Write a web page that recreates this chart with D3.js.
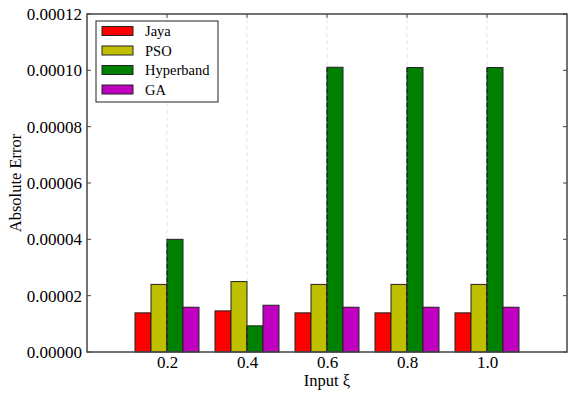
<!DOCTYPE html>
<html lang="en">
<head>
<meta charset="UTF-8">
<title>Absolute Error</title>
<script src="https://cdn.jsdelivr.net/npm/d3@7"></script>
<style>
	body { margin: 0; background: #fff; }
	svg text { font-family: "Liberation Serif", "DejaVu Serif", serif; fill: #000; }
</style>
</head>
<body>
<div id="viz"></div>
<script>
	// data
	let inputs = [0.2, 0.4, 0.6, 0.8, 1.0];
	let methods = ['Jaya', 'PSO', 'Hyperband', 'GA'];
	let jaya = [1.39e-5, 1.46e-5, 1.39e-5, 1.39e-5, 1.39e-5];
	let pso = [2.40e-5, 2.50e-5, 2.40e-5, 2.40e-5, 2.40e-5];
	let hyperband = [4.00e-5, 0.93e-5, 1.011e-4, 1.010e-4, 1.010e-4];
	let ga = [1.59e-5, 1.66e-5, 1.59e-5, 1.59e-5, 1.59e-5];
	let yTicks = [0, 0.00002, 0.00004, 0.00006, 0.00008, 0.00010, 0.00012];
	let colors = ['#ff0000', '#bfbf00', '#008000', '#bf00bf'];

	let series = [jaya, pso, hyperband, ga];
	let barW = 0.04;

	let W = 577, H = 398;
	let margin = {top: 14, left: 87, bottom: 46, right: 10};

	let x = d3.scaleLinear().domain([0, 1.2]).range([margin.left, W - margin.right]);
	let y = d3.scaleLinear().domain([0, 0.00012]).range([H - margin.bottom, margin.top]);

	let svg = d3.select('#viz').append('svg')
		.attr('width', W).attr('height', H);

	// faint vertical grid
	svg.append('g').selectAll('line')
		.data(inputs).enter().append('line')
		.attr('x1', d => x(d)).attr('x2', d => x(d))
		.attr('y1', y(0)).attr('y2', y(0.00012))
		.attr('stroke', '#e6e6e6')
		.attr('stroke-dasharray', '4,3');

	// bars
	series.forEach((vals, i) => {
		svg.append('g').selectAll('rect')
			.data(vals).enter().append('rect')
			.attr('x', (d, j) => x(inputs[j] + (i - 2) * barW))
			.attr('width', x(barW) - x(0))
			.attr('y', d => y(d))
			.attr('height', d => y(0) - y(d))
			.attr('fill', colors[i])
			.attr('stroke', '#222')
			.attr('stroke-width', 1);
	});

	// dark dashed grid over the hyperband bars
	svg.append('g').selectAll('line')
		.data(hyperband).enter().append('line')
		.attr('x1', (d, j) => x(inputs[j])).attr('x2', (d, j) => x(inputs[j]))
		.attr('y1', y(0)).attr('y2', d => y(d))
		.attr('stroke', '#222')
		.attr('stroke-dasharray', '4,3');

	// axes
	let xAxis = d3.axisBottom(x).tickValues(inputs).tickSize(0).tickPadding(4)
		.tickFormat(d3.format('.1f'));
	let yAxis = d3.axisLeft(y).tickValues(yTicks).tickSize(0).tickPadding(5)
		.tickFormat(d3.format('.5f'));

	let gx = svg.append('g')
		.attr('transform', 'translate(0,' + y(0) + ')')
		.call(xAxis);
	let gy = svg.append('g')
		.attr('transform', 'translate(' + margin.left + ',0)')
		.call(yAxis);
	[gx, gy].forEach(g => {
		g.attr('font-family', null).attr('font-size', null);
		g.select('.domain').remove();
		g.selectAll('text').attr('font-size', 17);
	});
	gx.selectAll('text').attr('dy', '0.71em');

	// inward ticks on all four sides
	let ticks = svg.append('g').attr('stroke', '#444').attr('stroke-width', 1);
	inputs.forEach(v => {
		ticks.append('line').attr('x1', x(v)).attr('x2', x(v)).attr('y1', y(0)).attr('y2', y(0) - 4);
		ticks.append('line').attr('x1', x(v)).attr('x2', x(v)).attr('y1', y(0.00012)).attr('y2', y(0.00012) + 4);
	});
	yTicks.forEach(v => {
		ticks.append('line').attr('x1', x(0)).attr('x2', x(0) + 4).attr('y1', y(v)).attr('y2', y(v));
		ticks.append('line').attr('x1', x(1.2)).attr('x2', x(1.2) - 4).attr('y1', y(v)).attr('y2', y(v));
	});

	// frame
	svg.append('rect')
		.attr('x', x(0)).attr('y', y(0.00012))
		.attr('width', x(1.2) - x(0)).attr('height', y(0) - y(0.00012))
		.attr('fill', 'none').attr('stroke', '#444').attr('stroke-width', 1.5);

	// axis labels
	svg.append('text')
		.attr('x', (x(0) + x(1.2)) / 2).attr('y', 386)
		.attr('text-anchor', 'middle').attr('font-size', 16.5)
		.text('Input ξ');
	svg.append('text')
		.attr('transform', 'translate(21,' + (y(0.00006)) + ') rotate(-90)')
		.attr('text-anchor', 'middle').attr('font-size', 16.5)
		.text('Absolute Error');

	// legend
	let lg = svg.append('g').attr('transform', 'translate(96,21)');
	lg.append('rect')
		.attr('width', 122).attr('height', 81)
		.attr('fill', '#fff').attr('stroke', '#222').attr('stroke-width', 1);
	methods.forEach((m, i) => {
		let row = lg.append('g').attr('transform', 'translate(0,' + (10 + i * 19.5) + ')');
		row.append('rect')
			.attr('x', 6).attr('y', -4.5).attr('width', 31).attr('height', 9)
			.attr('fill', colors[i]).attr('stroke', '#222').attr('stroke-width', 1);
		row.append('text')
			.attr('x', 49).attr('y', 0).attr('dy', '0.35em')
			.attr('font-size', 14.5)
			.text(m);
	});
</script>
</body>
</html>
